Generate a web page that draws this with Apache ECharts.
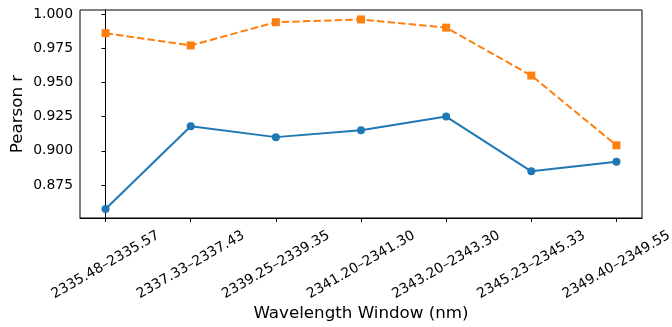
<!DOCTYPE html>
<html>
<head>
<meta charset="utf-8">
<script src="https://cdn.jsdelivr.net/npm/echarts@6/dist/echarts.min.js"></script>
<style>
  html, body { margin: 0; padding: 0; background: #fff; }
  #chart { width: 672px; height: 327px; }
</style>
</head>
<body>
<div id="chart"></div>
<script>
// wavelength windows (x categories)
var windows = ['2335.48–2335.57', '2337.33–2337.43', '2339.25–2339.35', '2341.20–2341.30',
               '2343.20–2343.30', '2345.23–2345.33', '2349.40–2349.55'];
// blue solid line, circles
var seriesA = [0.8575, 0.918, 0.910, 0.915, 0.925, 0.885, 0.892];
// orange dashed line, squares
var seriesB = [0.986, 0.977, 0.994, 0.996, 0.990, 0.955, 0.904];
var yTicks = [0.875, 0.900, 0.925, 0.950, 0.975, 1.000];

var xIdx = windows.map(function (w, i) { return i; });
function pairs(vals) {
  return vals.map(function (v, i) { return [i, v]; });
}

var font = 'DejaVu Sans';
var chart = echarts.init(document.getElementById('chart'));
var option = {
  animation: false,
  textStyle: { fontFamily: font },
  grid: {
    left: 80, top: 10, right: 30, bottom: 109,
    outerBoundsMode: 'none',
    containLabel: false,
    show: true, borderColor: '#000', borderWidth: 1, backgroundColor: 'transparent'
  },
  xAxis: {
    type: 'value',
    min: -0.3, max: 6.3,
    splitLine: { show: false },
    axisLine: { lineStyle: { color: '#000', width: 1 } },
    axisTick: { length: 4, customValues: xIdx, lineStyle: { color: '#000' } },
    axisLabel: {
      customValues: xIdx,
      rotate: 30,
      align: 'center',
      verticalAlign: 'middle',
      margin: 47,
      color: '#000',
      fontSize: 13.9,
      fontFamily: font,
      formatter: function (v) { return windows[Math.round(v)]; }
    },
    name: 'Wavelength Window (nm)',
    nameLocation: 'middle',
    nameMoveOverlap: false,
    nameGap: 87,
    nameTextStyle: { fontSize: 16.7, color: '#000', fontFamily: font }
  },
  yAxis: {
    type: 'value',
    min: 0.8509, max: 1.0029,
    splitLine: { show: false },
    axisLine: { show: true, lineStyle: { color: '#000', width: 1 } },
    axisTick: { show: true, length: 4, customValues: yTicks, lineStyle: { color: '#000' } },
    axisLabel: {
      customValues: yTicks,
      margin: 7,
      color: '#000',
      fontSize: 13.9,
      fontFamily: font,
      formatter: function (v) { return v.toFixed(3); }
    },
    name: 'Pearson r',
    nameLocation: 'middle',
    nameMoveOverlap: false,
    nameGap: 54,
    nameTextStyle: { fontSize: 16.7, color: '#000', fontFamily: font }
  },
  series: [
    {
      type: 'line',
      data: pairs(seriesA),
      symbol: 'circle',
      symbolSize: 8,
      itemStyle: { color: '#1f77b4' },
      lineStyle: { color: '#1f77b4', width: 2 }
    },
    {
      type: 'line',
      data: pairs(seriesB),
      symbol: 'rect',
      symbolSize: 8,
      itemStyle: { color: '#ff7f0e' },
      lineStyle: { color: '#ff7f0e', width: 2, type: [7.4, 3.2] }
    }
  ]
};
chart.setOption(option);
</script>
</body>
</html>
